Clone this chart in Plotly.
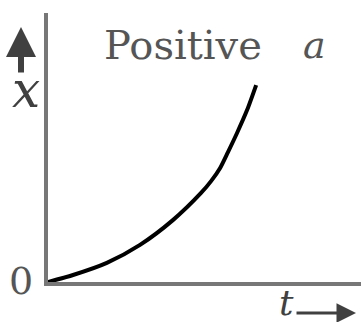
import plotly.graph_objects as go

# curve (arbitrary units)
t_vals = [0.0, 0.80, 1.88, 2.94, 3.99, 4.89, 5.21, 5.50, 5.75, 6.04, 6.36, 6.65]
x_vals = [0.0, 0.26, 0.71, 1.38, 2.30, 3.31, 3.75, 4.24, 4.83, 5.54, 6.39, 7.32]

title_word = "Positive"
title_symbol = "<i>a</i>"
x_label = "<i>x</i>"
t_label = "<i>t</i>"
origin_label = "0"

W, H = 361, 322
L, R, T, B = 48, 0, 13, 40
pw, ph = W - L - R, H - T - B

def px(x):
    return (x - L) / pw

def py(y):
    return (H - B - y) / ph

fig = go.Figure()
fig.add_trace(go.Scatter(x=t_vals, y=x_vals, mode="lines",
                         line=dict(color="black", width=4, shape="spline", smoothing=0.7),
                         hoverinfo="skip", showlegend=False))

serif = "DejaVu Serif, Liberation Serif, serif"
gray = "#555555"

fig.update_layout(
    width=W, height=H,
    margin=dict(l=L, r=R, t=T, b=B),
    paper_bgcolor="white", plot_bgcolor="white",
    showlegend=False,
    xaxis=dict(range=[0, 10], showgrid=False, zeroline=False, showticklabels=False,
               ticks="", showline=True, linecolor="#777777", linewidth=4),
    yaxis=dict(range=[0, 10], showgrid=False, zeroline=False, showticklabels=False,
               ticks="", showline=True, linecolor="#777777", linewidth=4),
    annotations=[
        dict(text=title_word, x=px(102), y=py(45), xref="paper", yref="paper",
             xanchor="left", yanchor="middle", showarrow=False,
             font=dict(family=serif, size=40, color=gray)),
        dict(text=title_symbol, x=px(314), y=py(45), xref="paper", yref="paper",
             xanchor="center", yanchor="middle", showarrow=False,
             font=dict(family=serif, size=38, color=gray)),
        dict(text=x_label, x=px(26), y=py(90), xref="paper", yref="paper",
             xanchor="center", yanchor="middle", showarrow=False,
             font=dict(family=serif, size=50, color="#404040")),
        dict(text=origin_label, x=px(21), y=py(281), xref="paper", yref="paper",
             xanchor="center", yanchor="middle", showarrow=False,
             font=dict(family=serif, size=38, color=gray)),
        dict(text=t_label, x=px(286), y=py(302), xref="paper", yref="paper",
             xanchor="center", yanchor="middle", showarrow=False,
             font=dict(family=serif, size=36, color="#404040")),
        # up arrow next to x
        dict(text="", x=px(21), y=py(27), xref="paper", yref="paper",
             ax=0, ay=47, axref="pixel", ayref="pixel",
             showarrow=True, arrowhead=2, arrowsize=1.0, arrowwidth=6, arrowcolor="#404040"),
        # right arrow next to t
        dict(text="", x=px(356), y=py(313), xref="paper", yref="paper",
             ax=-61, ay=0, axref="pixel", ayref="pixel",
             showarrow=True, arrowhead=2, arrowsize=1.3, arrowwidth=3, arrowcolor="#404040"),
    ],
)

fig.write_html("out.html", config={"displayModeBar": False},
               post_script="document.body.style.margin='0';")
